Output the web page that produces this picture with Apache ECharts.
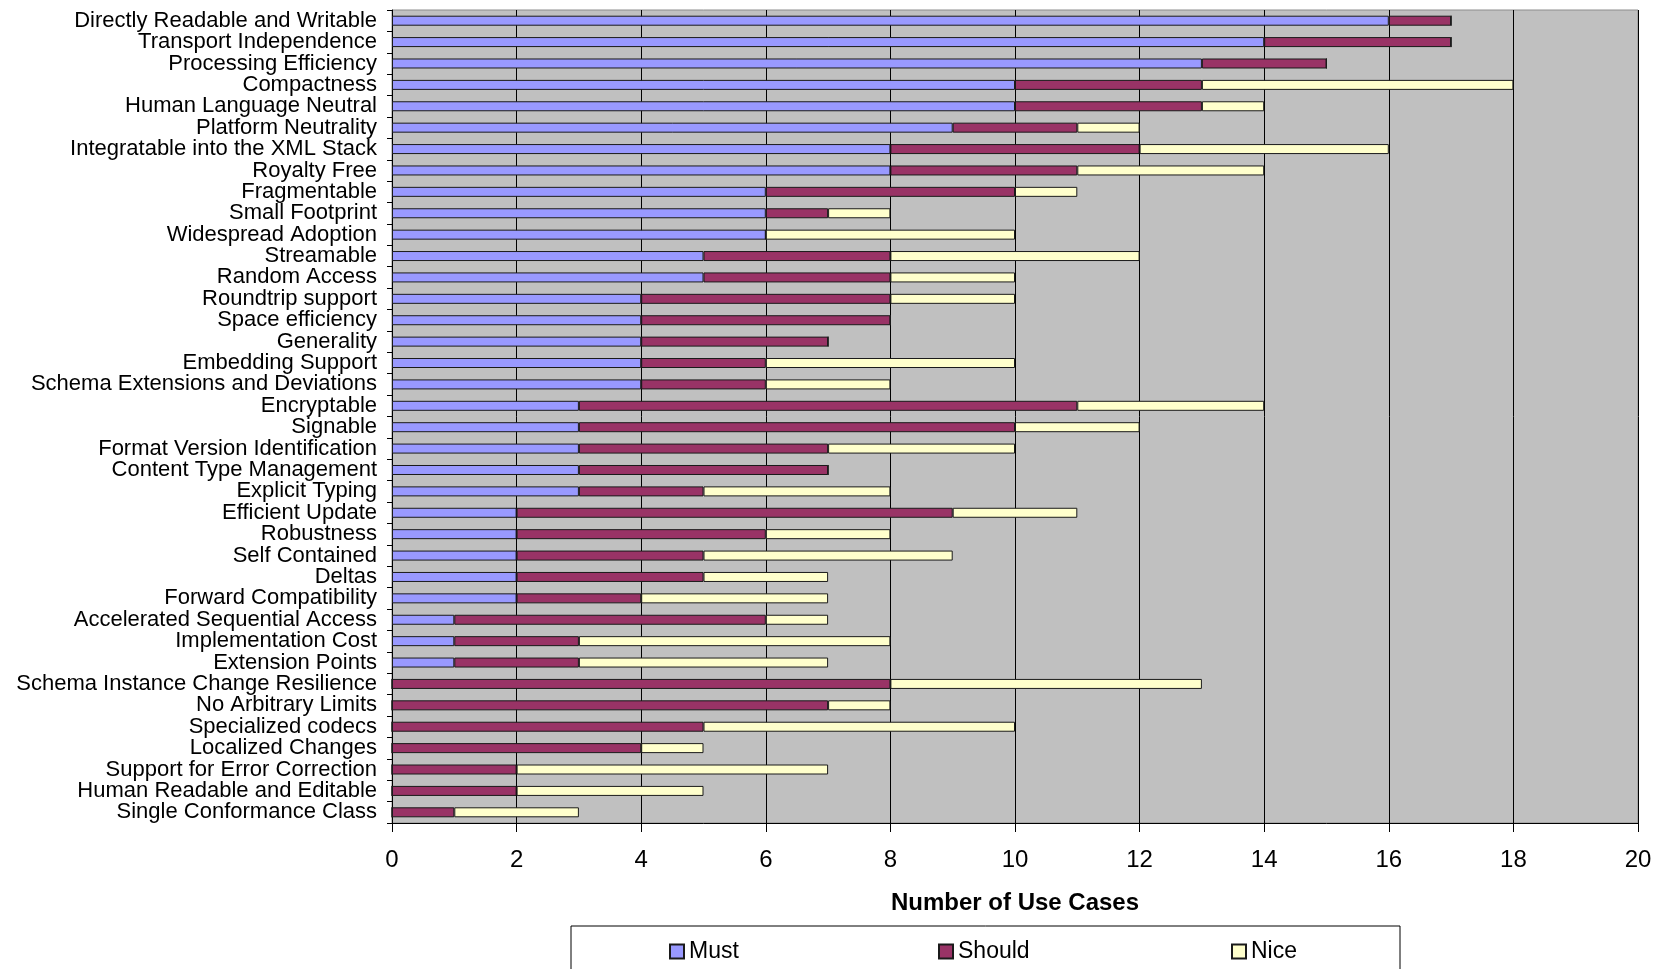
<!DOCTYPE html>
<html>
<head>
<meta charset="utf-8">
<script src="https://cdn.jsdelivr.net/npm/echarts@6/dist/echarts.min.js"></script>
<style>
html,body{margin:0;padding:0;background:#fff;}
#chart{width:1662px;height:969px;}
</style>
</head>
<body>
<div id="chart"></div>
<script>
const categories = [
  "Directly Readable and Writable","Transport Independence","Processing Efficiency","Compactness",
  "Human Language Neutral","Platform Neutrality","Integratable into the XML Stack","Royalty Free",
  "Fragmentable","Small Footprint","Widespread Adoption","Streamable","Random Access",
  "Roundtrip support","Space efficiency","Generality","Embedding Support",
  "Schema Extensions and Deviations","Encryptable","Signable","Format Version Identification",
  "Content Type Management","Explicit Typing","Efficient Update","Robustness","Self Contained",
  "Deltas","Forward Compatibility","Accelerated Sequential Access","Implementation Cost",
  "Extension Points","Schema Instance Change Resilience","No Arbitrary Limits","Specialized codecs",
  "Localized Changes","Support for Error Correction","Human Readable and Editable","Single Conformance Class"
];
const mustValues   = [16,14,13,10,10,9,8,8,6,6,6,5,5,4,4,4,4,4,3,3,3,3,3,2,2,2,2,2,1,1,1,0,0,0,0,0,0,0];
const shouldValues = [1,3,2,3,3,2,4,3,4,1,0,3,3,4,4,3,2,2,8,7,4,4,2,7,4,3,3,2,5,2,2,8,7,5,4,2,2,1];
const niceValues   = [0,0,0,5,1,1,4,3,1,1,4,4,2,2,0,0,4,2,3,2,3,0,3,2,2,4,2,3,1,5,4,5,1,5,1,5,3,2];
const xTicks = {min:0, max:20, interval:2};
const seriesNames = ["Must","Should","Nice"];
const seriesColors = ["#9999FF","#993366","#FFFFCC"];

const FONT = "'Liberation Sans Narrow','Arial Narrow','Liberation Sans',sans-serif";
const chart = echarts.init(document.getElementById('chart'), null, {renderer:'canvas'});
const dataSets = [mustValues, shouldValues, niceValues];

function mkLegend(i, left){
  return {
    data:[seriesNames[i]], left:left, top:935, itemWidth:14, itemHeight:14, itemGap:6,
    icon:'rect',
    textStyle:{fontFamily:FONT, fontSize:23, color:'#000'}
  };
}

chart.setOption({
  animation:false,
  backgroundColor:'#fff',
  grid:{left:392, right:24, top:10, bottom:146, show:true, backgroundColor:'#C0C0C0', borderColor:'#8c8c8c', borderWidth:1},
  legend:[mkLegend(0,664), mkLegend(1,933), mkLegend(2,1226)],
  graphic:[{type:'rect', shape:{x:571, y:926, width:829, height:70}, style:{fill:'#fff', stroke:'#000', lineWidth:1}, z:-1}],
  xAxis:{
    type:'value', min:xTicks.min, max:xTicks.max, interval:xTicks.interval,
    name:'Number of Use Cases', nameLocation:'middle', nameGap:68,
    nameTextStyle:{fontFamily:FONT, fontSize:24, fontWeight:'bold', color:'#000'},
    axisLine:{show:true, lineStyle:{color:'#000', width:1}},
    axisTick:{show:true, length:9, lineStyle:{color:'#000'}},
    axisLabel:{fontFamily:FONT, fontSize:24, color:'#000', margin:25},
    splitLine:{show:true, lineStyle:{color:'#000', width:1}}
  },
  yAxis:{
    type:'category', data:categories, inverse:true,
    axisLine:{show:true, lineStyle:{color:'#000', width:1}},
    axisTick:{show:true, length:5, lineStyle:{color:'#000'}},
    axisLabel:{fontFamily:FONT, fontSize:22, color:'#000', margin:15, interval:0},
    splitLine:{show:false}
  },
  series: seriesNames.map((n,i)=>({
    name:n, type:'bar', stack:'total', barWidth:10,
    data:dataSets[i],
    itemStyle:{color:seriesColors[i], borderColor:'#1a1a1a', borderWidth:1}
  }))
});
</script>
</body>
</html>
